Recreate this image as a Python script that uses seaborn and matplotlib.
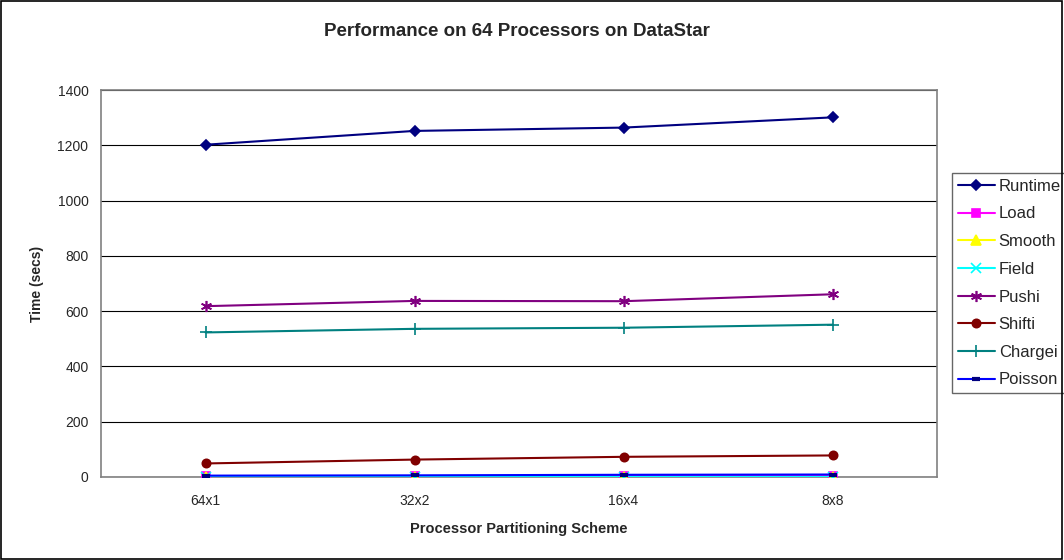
import matplotlib
matplotlib.use("Agg")
import matplotlib.pyplot as plt
from matplotlib.patches import Rectangle
import seaborn as sns
import pandas as pd

# Processor partitioning schemes on the x axis
schemes = ["64x1", "32x2", "16x4", "8x8"]

# Timings in seconds for each phase
runtime = [1202, 1252, 1264, 1301]
load = [3, 3, 4, 4]
smooth = [0.5, 0.5, 0.5, 0.5]
field = [1, 1, 1, 1]
pushi = [618, 637, 636, 661]
shifti = [49, 63, 73, 78]
chargei = [523, 536, 540, 551]
poisson = [5, 6, 8, 9]

series_names = ["Runtime", "Load", "Smooth", "Field", "Pushi", "Shifti", "Chargei", "Poisson"]
series_values = [runtime, load, smooth, field, pushi, shifti, chargei, poisson]
colors = ["#000080", "#FF00FF", "#FFFF00", "#00FFFF", "#800080", "#800000", "#008080", "#0000FF"]
markers = ["D", "s", "^", "x", (6, 2, 0), "o", "+", "_"]
msizes = [5, 6, 7, 7, 8, 6, 8, 6]
medges = [1.2, 1.2, 1.2, 1.2, 1.2, 1.2, 1.2, 3.0]

sns.set_theme(style="white")
plt.rcParams["font.family"] = ["Liberation Sans", "DejaVu Sans"]

fig = plt.figure(figsize=(10.64, 5.6), dpi=100)
ax = fig.add_axes([101 / 1064, 1 - 477 / 560, (937 - 101) / 1064, (477 - 90) / 560])

pos = list(range(len(schemes)))
for name, vals, c, m, ms, mew in zip(series_names, series_values, colors, markers, msizes, medges):
    df = pd.DataFrame({"x": pos, "y": vals})
    mc = "#000080" if name == "Poisson" else c
    sns.lineplot(data=df, x="x", y="y", ax=ax, color=c, marker=m, markersize=ms,
                 markeredgecolor=mc, markerfacecolor=mc, markeredgewidth=mew,
                 linewidth=1.5, label=name, zorder=3)

ax.set_xlim(-0.5, len(schemes) - 0.5)
ax.set_ylim(0, 1400)
ax.set_yticks(range(0, 1401, 200))
ax.set_xticks(pos)
ax.set_xticklabels(schemes)
ax.set_xticks([p - 0.5 for p in pos] + [len(schemes) - 0.5], minor=True)
ax.tick_params(axis="x", which="major", length=0, pad=12, labelsize=10)
ax.tick_params(axis="x", which="minor", length=5, direction="out", color="#808080", width=1)
ax.tick_params(axis="y", which="major", length=5, direction="out", color="#808080", width=1,
               labelsize=10, pad=4)
ax.yaxis.grid(True, color="black", linewidth=0.8)
ax.set_axisbelow(True)
for side in ["left", "bottom", "right", "top"]:
    ax.spines[side].set_visible(True)
    ax.spines[side].set_color("#808080")
    ax.spines[side].set_linewidth(1.2)

ax.set_xlabel("Processor Partitioning Scheme", fontsize=10.5, fontweight="bold", labelpad=10)
ax.set_ylabel("Time (secs)", fontsize=10, fontweight="bold", labelpad=10)
fig.suptitle("Performance on 64 Processors on DataStar", fontsize=13.5, fontweight="bold",
             x=517 / 1064, y=1 - 31 / 560, va="center")

leg = ax.legend(loc="upper left", bbox_to_anchor=(952 / 1064, 1 - 173 / 560),
                bbox_transform=fig.transFigure, frameon=True, fancybox=False,
                edgecolor="#404040", fontsize=12, handlelength=2.2, handletextpad=0.25,
                borderpad=0.35, labelspacing=0.76, borderaxespad=0)
leg.get_frame().set_linewidth(1.0)

# Outer chart border
fig.patches.append(Rectangle((0.001, 0.002), 0.997, 0.996, transform=fig.transFigure,
                             fill=False, edgecolor="black", linewidth=1.2))

fig.savefig("out.png", dpi=100, facecolor="white")
